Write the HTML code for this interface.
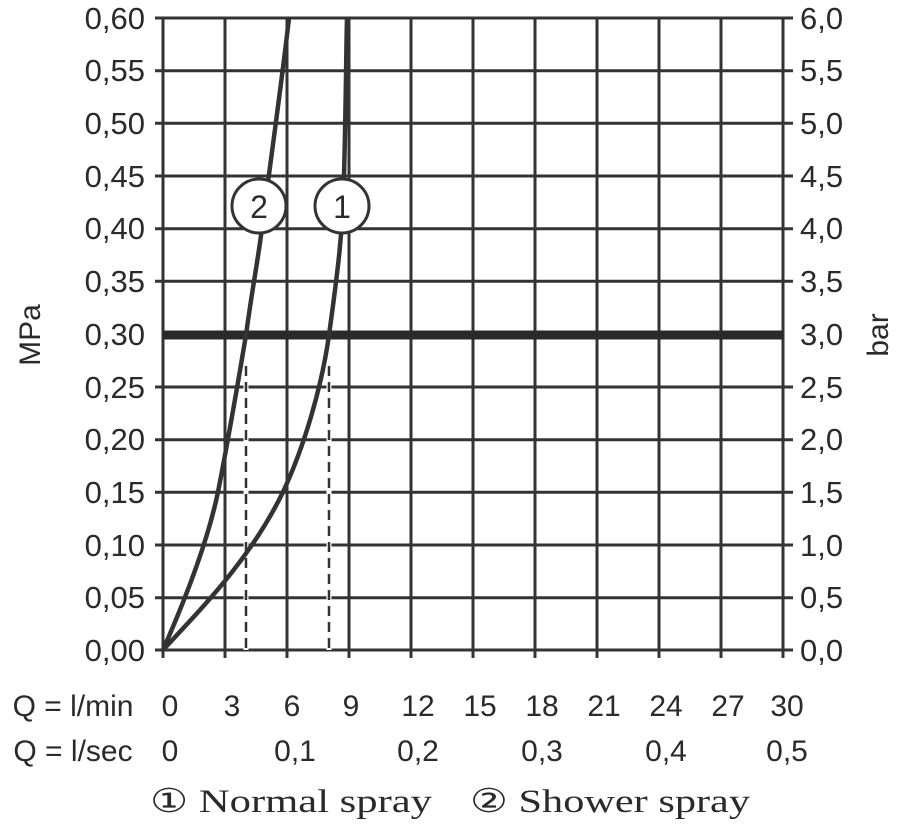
<!DOCTYPE html><html><head><style>body{margin:0;background:#fff}svg{display:block}</style></head><body>
<svg width="904" height="826" xmlns="http://www.w3.org/2000/svg" font-family="Liberation Sans, sans-serif" fill="#2a2a2a">
<g stroke="#333" stroke-width="3">
<path d="M155 18H793M155 70.7H793M155 123.3H793M155 176H793M155 228.7H793M155 281.3H793M155 387H793M155 439.7H793M155 492.3H793M155 545H793M155 597.7H793M155 650H793"/>
<path d="M163 18V658M225 18V658M287 18V658M349 18V658M411 18V658M473 18V658M535 18V658M597 18V658M659 18V658M721 18V658M783 18V658"/>
</g>
<path d="M163 335H783" stroke="#2a2a2a" stroke-width="9"/>
<g stroke="#fff" stroke-width="5"><path d="M246 366V650M329 366V650"/></g>
<g stroke="#333" stroke-width="2.5" stroke-dasharray="10,6"><path d="M246 366V650M329 366V650"/></g>
<g fill="none" stroke="#333" stroke-width="4.5">
<path d="M163 650 C200 610,250 560,283 492 C305 445,322 385,329 335 C338 270,343 230,344 176 C346 100,346 60,347 18"/>
<path d="M163 650 C185 600,208 540,218 492 C232 420,240 370,246 335 C252 290,258 260,262 228 C272 150,282 80,289 18"/>
</g>
<circle cx="259" cy="206" r="27" fill="#fff" stroke="#333" stroke-width="3"/>
<circle cx="342" cy="206" r="27" fill="#fff" stroke="#333" stroke-width="3"/>
<g font-size="32" text-anchor="middle"><text x="259" y="218">2</text><text x="342" y="218">1</text></g>
<g font-size="31" text-anchor="end">
<text x="145" y="29">0,60</text><text x="145" y="81">0,55</text><text x="145" y="134">0,50</text><text x="145" y="187">0,45</text><text x="145" y="239">0,40</text><text x="145" y="292">0,35</text><text x="145" y="345">0,30</text><text x="145" y="398">0,25</text><text x="145" y="450">0,20</text><text x="145" y="503">0,15</text><text x="145" y="556">0,10</text><text x="145" y="608">0,05</text><text x="145" y="661">0,00</text>
</g>
<g font-size="31">
<text x="800" y="29">6,0</text><text x="800" y="81">5,5</text><text x="800" y="134">5,0</text><text x="800" y="187">4,5</text><text x="800" y="239">4,0</text><text x="800" y="292">3,5</text><text x="800" y="345">3,0</text><text x="800" y="398">2,5</text><text x="800" y="450">2,0</text><text x="800" y="503">1,5</text><text x="800" y="556">1,0</text><text x="800" y="608">0,5</text><text x="800" y="661">0,0</text>
</g>
<text font-size="30" transform="translate(40,335) rotate(-90)" text-anchor="middle">MPa</text>
<text font-size="30" transform="translate(888,335) rotate(-90)" text-anchor="middle">bar</text>
<g font-size="30" text-anchor="middle">
<text x="73" y="716">Q = l/min</text>
<text x="170" y="716">0</text><text x="232" y="716">3</text><text x="292" y="716">6</text><text x="351" y="716">9</text><text x="418" y="716">12</text><text x="480" y="716">15</text><text x="542" y="716">18</text><text x="604" y="716">21</text><text x="666" y="716">24</text><text x="728" y="716">27</text><text x="787" y="716">30</text>
<text x="73" y="761">Q = l/sec</text>
<text x="170" y="761">0</text><text x="295" y="761">0,1</text><text x="418" y="761">0,2</text><text x="542" y="761">0,3</text><text x="666" y="761">0,4</text><text x="787" y="761">0,5</text>
</g>
<g font-family="Liberation Serif, serif" font-size="33">
<text x="150" y="812" textLength="282" lengthAdjust="spacingAndGlyphs">① Normal spray</text>
<text x="470" y="812" textLength="280" lengthAdjust="spacingAndGlyphs">② Shower spray</text>
</g>
</svg></body></html>
